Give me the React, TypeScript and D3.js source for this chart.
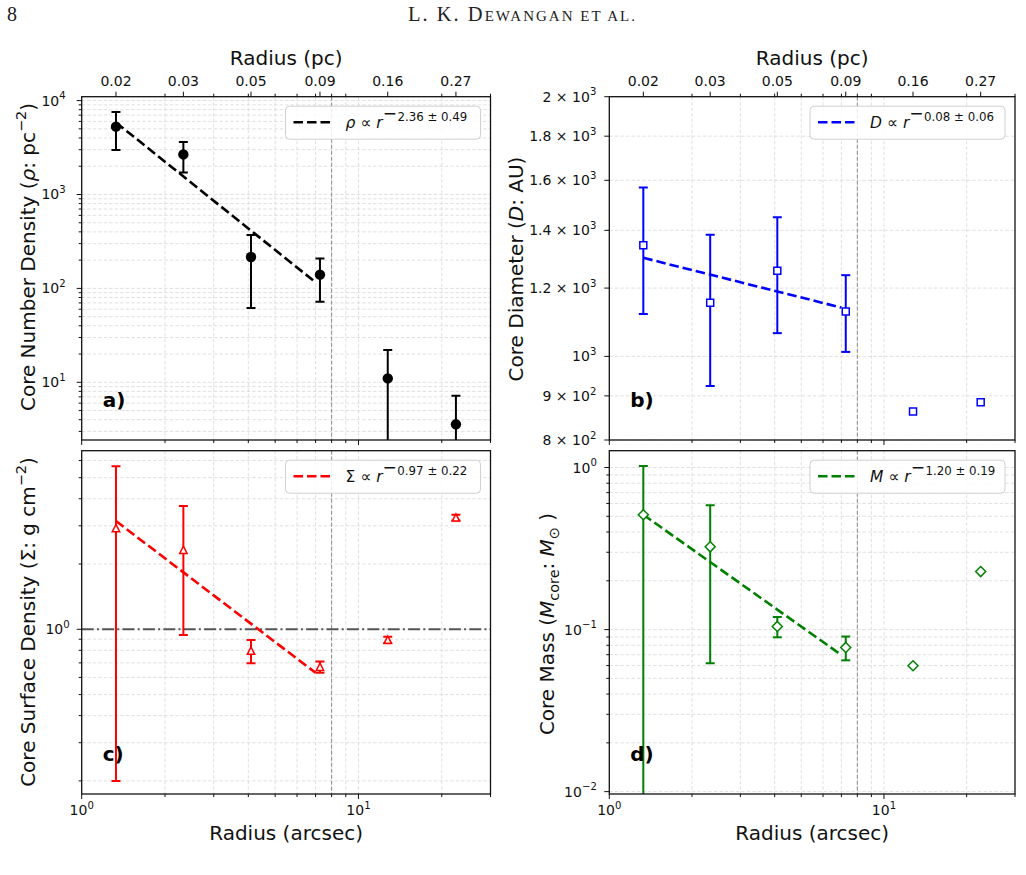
import { useEffect, useRef } from 'react'
import * as d3 from 'd3'

// Radii of the six annuli (arcsec) and the matching physical radii shown on the top axis
const radiusArcsec = [1.33, 2.33, 4.09, 7.26, 12.76, 22.5]
const radiusPcLabels = ['0.02', '0.03', '0.05', '0.09', '0.16', '0.27']

// a) core number density (pc^-2)
const density = [5280, 2670, 216, 140, 11.0, 3.57]
const densityErr = [2300, 950, 154, 68, 11.1, 3.6]
// b) core diameter (AU)
const diameter = [1345, 1154, 1257, 1127, 863, 885]
const diameterErr = [225, 230, 193, 115, 0, 0]
// c) core surface density (g cm^-2)
const surfDensity = [2.92, 2.32, 0.795, 0.67, 0.893, 3.27]
const surfDensityErr = [2.72, 1.38, 0.097, 0.04, 0.03, 0.1]
// d) core mass (Msun)
const coreMass = [0.511, 0.324, 0.1046, 0.0776, 0.0598, 0.228]
const coreMassErr = [0.51, 0.262, 0.015, 0.013, 0, 0]

// power-law fits: amplitude, index, index uncertainty
const densityFit = [11460, -2.36, 0.49]
const diameterFit = [1331, -0.08, 0.06]
const surfDensityFit = [4.16, -0.97, 0.22]
const coreMassFit = [0.72, -1.2, 0.19]
const fitRange = [1.33, 7.0]

const radiusCut = 8
const sigmaThreshold = 1
const diameterTicks = [800, 900, 1000, 1200, 1400, 1600, 1800, 2000]

const FONT = 'DejaVu Sans'

// text run: shift is the baseline offset from the main line (px, negative = up)
type Part = { t: string; italic?: boolean; sup?: boolean; sub?: boolean; shift?: number; size?: number; dx?: number }

function addParts(text: any, parts: Part[], size: number) {
  let cur = 0
  parts.forEach(p => {
    const target = p.shift ?? (p.sup ? -0.45 * size : p.sub ? 0.25 * size : 0)
    const ts = text.append('tspan').text(p.t)
    if (target !== cur) ts.attr('dy', target - cur)
    if (p.dx) ts.attr('dx', p.dx)
    cur = target
    if (p.size) ts.attr('font-size', p.size)
    else if (p.sup || p.sub) ts.attr('font-size', size * 0.72)
    if (p.italic) ts.attr('font-style', 'italic')
  })
}

const minus = (s: string) => s.replace('-', '\u2212')

function powLabel(v: number): Part[] {
  const e = Math.floor(Math.log10(v) + 1e-9)
  const mant = +(v / Math.pow(10, e)).toFixed(2)
  const base: Part[] = [{ t: '10' }, { t: minus(String(e)), sup: true }]
  return mant === 1 ? base : [{ t: `${mant} \u00d7 ` }, ...base]
}

const isDecade = (v: number) => Math.abs(Math.log10(v) - Math.round(Math.log10(v))) < 1e-9

interface PanelCfg {
  left: number
  right: number
  top: number
  bottom: number
  yDomain: [number, number]
  values: number[]
  errors: number[]
  fit: number[]
  color: string
  marker: 'circle' | 'square' | 'triangle' | 'diamond'
  symbol: Part[]
  ylabel: Part[]
  ylabelX: number
  ylabelY: number
  tag: string
  tickGap: number
  yTicks?: number[]
  topAxis?: boolean
  xLabels?: boolean
  hline?: number
}

function drawPanel(root: any, cfg: PanelCfg, idx: number) {
  const { left, right, top, bottom } = cfg
  const x = d3.scaleLog().domain([1, 30]).range([left, right])
  const y = d3.scaleLog().domain(cfg.yDomain).range([bottom, top])
  const g = root.append('g')

  const clipId = `clip-${idx}`
  g.append('clipPath').attr('id', clipId)
    .append('rect').attr('x', left).attr('y', top).attr('width', right - left).attr('height', bottom - top)

  const xTicks = x.ticks().filter(v => v >= 1 && v <= 30)
  const yTicks = cfg.yTicks ?? y.ticks().filter(v => v >= cfg.yDomain[0] && v <= cfg.yDomain[1])

  // grid
  const grid = g.append('g').attr('stroke', '#d8d8d8').attr('stroke-width', 0.8).attr('stroke-dasharray', '3.5,2')
  xTicks.filter(v => v > 1 && v < 30).forEach(v => {
    grid.append('line').attr('x1', x(v)).attr('x2', x(v)).attr('y1', top).attr('y2', bottom)
  })
  yTicks.forEach(v => {
    grid.append('line').attr('x1', left).attr('x2', right).attr('y1', y(v)).attr('y2', y(v))
  })

  const plot = g.append('g').attr('clip-path', `url(#${clipId})`)

  // reference lines
  plot.append('line')
    .attr('x1', x(radiusCut)).attr('x2', x(radiusCut)).attr('y1', top).attr('y2', bottom)
    .attr('stroke', '#8c8c8c').attr('stroke-width', 1).attr('stroke-dasharray', '4,2')
  if (cfg.hline !== undefined) {
    plot.append('line')
      .attr('x1', left).attr('x2', right).attr('y1', y(cfg.hline)).attr('y2', y(cfg.hline))
      .attr('stroke', '#555').attr('stroke-width', 2).attr('stroke-dasharray', '12,3.2,2,3.2')
  }

  // power-law fit
  const [amp, slope, slopeErr] = cfg.fit
  const fitLine = d3.line<number>().x(r => x(r)).y(r => y(amp * Math.pow(r, slope)))
  plot.append('path')
    .attr('d', fitLine(fitRange))
    .attr('fill', 'none').attr('stroke', cfg.color).attr('stroke-width', 2.6).attr('stroke-dasharray', '9.5,4')

  // error bars
  const eb = plot.append('g').attr('stroke', cfg.color).attr('stroke-width', 2)
  radiusArcsec.forEach((r, i) => {
    const e = cfg.errors[i]
    if (!e) return
    const v = cfg.values[i]
    const hi = y(v + e)
    const lo = v - e > 0 ? y(v - e) : bottom + 5
    const cx = x(r)
    eb.append('line').attr('x1', cx).attr('x2', cx).attr('y1', hi).attr('y2', lo)
    eb.append('line').attr('x1', cx - 4.5).attr('x2', cx + 4.5).attr('y1', hi).attr('y2', hi)
    eb.append('line').attr('x1', cx - 4.5).attr('x2', cx + 4.5).attr('y1', lo).attr('y2', lo)
  })

  // markers
  radiusArcsec.forEach((r, i) => {
    const cx = x(r)
    const cy = y(cfg.values[i])
    if (cfg.marker === 'circle') {
      plot.append('circle').attr('cx', cx).attr('cy', cy).attr('r', 5.2).attr('fill', cfg.color)
      return
    }
    let d = ''
    if (cfg.marker === 'square') d = 'M-3.5,-3.5L3.5,-3.5L3.5,3.5L-3.5,3.5Z'
    if (cfg.marker === 'triangle') d = 'M0,-3.9L3.7,3.4L-3.7,3.4Z'
    if (cfg.marker === 'diamond') d = 'M0,-5L5,0L0,5L-5,0Z'
    plot.append('path').attr('d', d).attr('transform', `translate(${cx},${cy})`)
      .attr('fill', '#fff').attr('stroke', cfg.color).attr('stroke-width', 1.5)
  })

  // spines
  g.append('rect').attr('x', left).attr('y', top).attr('width', right - left).attr('height', bottom - top)
    .attr('fill', 'none').attr('stroke', '#111').attr('stroke-width', 1.3)

  // y ticks and labels
  const ya = g.append('g').attr('stroke', '#111').attr('stroke-width', 1)
  yTicks.forEach(v => {
    const major = cfg.yTicks ? true : isDecade(v)
    ya.append('line').attr('x1', left - (major ? 5 : 3)).attr('x2', left).attr('y1', y(v)).attr('y2', y(v))
    if (major) {
      const t = g.append('text').attr('x', left - cfg.tickGap).attr('y', y(v) + 5)
        .attr('text-anchor', 'end').attr('font-family', FONT).attr('font-size', 14).attr('fill', '#111')
      addParts(t, powLabel(v), 14)
    }
  })

  // bottom x ticks
  const xa = g.append('g').attr('stroke', '#111').attr('stroke-width', 1)
  xTicks.forEach(v => {
    const major = isDecade(v)
    xa.append('line').attr('x1', x(v)).attr('x2', x(v)).attr('y1', bottom).attr('y2', bottom + (major ? 5 : 3))
    if (major && cfg.xLabels) {
      const t = g.append('text').attr('x', x(v)).attr('y', bottom + 21)
        .attr('text-anchor', 'middle').attr('font-family', FONT).attr('font-size', 14).attr('fill', '#111')
      addParts(t, powLabel(v), 14)
    }
  })
  if (cfg.xLabels) {
    g.append('text').attr('x', (left + right) / 2).attr('y', bottom + 46)
      .attr('text-anchor', 'middle').attr('font-family', FONT).attr('font-size', 20).attr('fill', '#111')
      .text('Radius (arcsec)')
  }

  // top axis in parsecs
  if (cfg.topAxis) {
    xTicks.filter(v => !isDecade(v)).forEach(v => {
      xa.append('line').attr('x1', x(v)).attr('x2', x(v)).attr('y1', top).attr('y2', top - 3)
    })
    radiusArcsec.forEach((r, i) => {
      xa.append('line').attr('x1', x(r)).attr('x2', x(r)).attr('y1', top).attr('y2', top - 5)
      g.append('text').attr('x', x(r)).attr('y', top - 10.5)
        .attr('text-anchor', 'middle').attr('font-family', FONT).attr('font-size', 14).attr('fill', '#111')
        .text(radiusPcLabels[i])
    })
    g.append('text').attr('x', (left + right) / 2).attr('y', top - 32)
      .attr('text-anchor', 'middle').attr('font-family', FONT).attr('font-size', 20).attr('fill', '#111')
      .text('Radius (pc)')
  }

  // y label
  const yl = g.append('text')
    .attr('transform', `translate(${cfg.ylabelX},${cfg.ylabelY}) rotate(-90)`)
    .attr('text-anchor', 'middle').attr('font-family', FONT).attr('font-size', 20).attr('fill', '#111')
  addParts(yl, cfg.ylabel, 20)

  // panel tag
  g.append('text').attr('x', left + 21).attr('y', bottom - 33.5)
    .attr('font-family', FONT).attr('font-size', 20).attr('font-weight', 'bold').attr('fill', '#000')
    .text(cfg.tag)

  // legend
  const lx = right - 205
  const ly = top + 9.5
  const lg = g.append('g')
  lg.append('rect').attr('x', lx).attr('y', ly).attr('width', 195).attr('height', 33).attr('rx', 4)
    .attr('fill', '#fff').attr('fill-opacity', 0.85).attr('stroke', '#d0d0d0').attr('stroke-width', 1)
  lg.append('line').attr('x1', lx + 8).attr('x2', lx + 45).attr('y1', ly + 16).attr('y2', ly + 16)
    .attr('stroke', cfg.color).attr('stroke-width', 2.6).attr('stroke-dasharray', '9.5,4')
  const lt = lg.append('text').attr('x', lx + 60).attr('y', ly + 22)
    .attr('font-family', FONT).attr('font-size', 15.5).attr('fill', '#111')
  const sign = slope < 0 ? '\u2212' : '+'
  const expo = `${Math.abs(slope).toFixed(2)} \u00b1 ${slopeErr.toFixed(2)}`
  addParts(lt, [
    ...cfg.symbol,
    { t: ' \u221d ' },
    { t: 'r', italic: true },
    { t: sign, shift: -9.5, size: 17 },
    { t: expo, shift: -7, size: 11.8, dx: 0.5 }
  ], 15.5)
}

const App = () => {
  const svgRef = useRef<SVGSVGElement>(null)

  useEffect(() => {
    if (!svgRef.current) return
    const svg = d3.select(svgRef.current)
    svg.selectAll('*').remove()

    svg.append('rect').attr('width', 1026).attr('height', 875).attr('fill', '#fff')

    // page header (running head set in small caps)
    svg.append('text').attr('x', 7).attr('y', 20.5).attr('font-family', 'Liberation Serif').attr('font-size', 20)
      .attr('fill', '#222').text('8')
    const head = svg.append('text').attr('x', 408).attr('y', 20.7)
      .attr('textLength', 227).attr('lengthAdjust', 'spacing')
      .attr('font-family', 'Liberation Serif').attr('fill', '#222')
    head.append('tspan').attr('font-size', 20.5).text('L. K. D')
    head.append('tspan').attr('font-size', 15).text('EWANGAN ET AL.')

    const L = [81.7, 490.5]
    const R = [609.3, 1015]
    const T = [96.7, 440]
    const B = [450.7, 794]

    const panels: PanelCfg[] = [
      {
        left: L[0], right: L[1], top: T[0], bottom: T[1], yDomain: [2.43, 11000],
        values: density, errors: densityErr, fit: densityFit, color: '#000', marker: 'circle',
        symbol: [{ t: '\u03c1', italic: true }],
        ylabel: [{ t: 'Core Number Density (' }, { t: '\u03c1', italic: true }, { t: ': pc' }, { t: '\u22122', sup: true }, { t: ')' }],
        ylabelX: 35, ylabelY: 257, tag: 'a)', tickGap: 16, topAxis: true
      },
      {
        left: R[0], right: R[1], top: T[0], bottom: T[1], yDomain: [800, 2000], yTicks: diameterTicks,
        values: diameter, errors: diameterErr, fit: diameterFit, color: '#0000ff', marker: 'square',
        symbol: [{ t: 'D', italic: true }],
        ylabel: [{ t: 'Core Diameter (' }, { t: 'D', italic: true }, { t: ': AU)' }],
        ylabelX: 523, ylabelY: 269, tag: 'b)', tickGap: 13, topAxis: true
      },
      {
        left: L[0], right: L[1], top: B[0], bottom: B[1], yDomain: [0.174, 6.66],
        values: surfDensity, errors: surfDensityErr, fit: surfDensityFit, color: '#ff0000', marker: 'triangle',
        symbol: [{ t: '\u03a3' }],
        ylabel: [{ t: 'Core Surface Density (\u03a3: g cm' }, { t: '\u22122', sup: true }, { t: ')' }],
        ylabelX: 35, ylabelY: 622, tag: 'c)', tickGap: 12, xLabels: true, hline: sigmaThreshold
      },
      {
        left: R[0], right: R[1], top: B[0], bottom: B[1], yDomain: [0.00967, 1.27],
        values: coreMass, errors: coreMassErr, fit: coreMassFit, color: '#008000', marker: 'diamond',
        symbol: [{ t: 'M', italic: true }],
        ylabel: [{ t: 'Core Mass (' }, { t: 'M', italic: true }, { t: 'core', sub: true }, { t: ': ' },
          { t: 'M', italic: true }, { t: '\u2299', sub: true }, { t: ' )' }],
        ylabelX: 554, ylabelY: 624, tag: 'd)', tickGap: 12.5, xLabels: true
      }
    ]

    panels.forEach((p, i) => drawPanel(svg, p, i))
  }, [])

  return (
    <svg
      ref={svgRef}
      width={1026}
      height={875}
      style={{ position: 'absolute', left: 0, top: 0 }}
    />
  )
}

export default App
